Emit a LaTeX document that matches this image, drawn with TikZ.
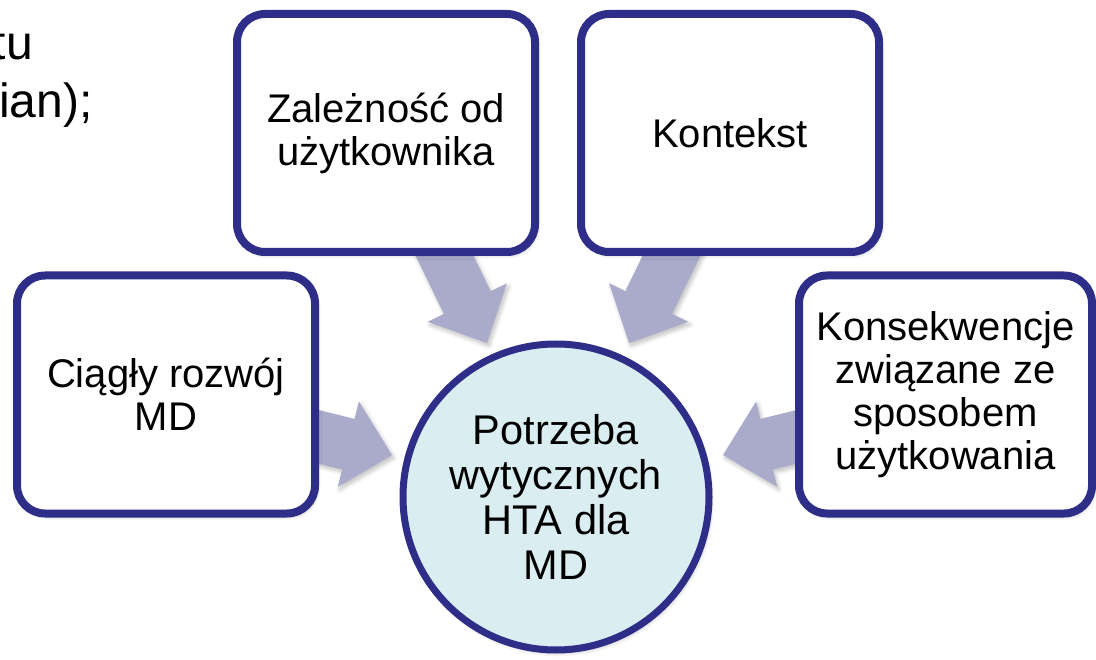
\documentclass[tikz,border=0pt]{standalone}
\usepackage{fontspec}
\setmainfont{Liberation Sans}
\usetikzlibrary{calc,shadows.blur}
\definecolor{navy}{RGB}{46,46,136}
\definecolor{arrowfill}{RGB}{170,171,203}
\definecolor{circfill}{RGB}{218,237,240}
\tikzset{
  softshadow/.style={blur shadow={shadow xshift=2pt, shadow yshift=-3pt, shadow blur steps=6, shadow blur radius=4pt, shadow opacity=25}},
  boxnode/.style={draw=navy, line width=8pt, rounded corners=28pt, fill=white,
    minimum width=298pt, minimum height=238pt, align=center, inner sep=0pt,
    font=\fontsize{40}{43}\selectfont, softshadow},
  hubnode/.style={circle, draw=navy, line width=7pt, fill=circfill, minimum size=306pt,
    align=center, inner sep=0pt, font=\fontsize{41.5}{45}\selectfont, softshadow},
  arrowstyle/.style={fill=arrowfill, softshadow},
  cuttext/.style={inner sep=0pt, font=\fontsize{48}{56}\selectfont}
}
\newcommand\blkarrow[2]{%
  \coordinate (hb) at ($(#2)!45pt!(#1)$);
  \fill[arrowstyle] ($(#1)!26pt!90:(#2)$) -- ($(hb)!26pt!-90:(#1)$) -- ($(hb)!44pt!-90:(#1)$) -- (#2)
    -- ($(hb)!44pt!90:(#1)$) -- ($(hb)!26pt!90:(#1)$) -- ($(#1)!26pt!-90:(#2)$) -- cycle;
}
\begin{document}
\begin{tikzpicture}[x=1pt,y=-1pt]
\useasboundingbox (0,0) rectangle (1096,660);
% cut-off slide text
\node[cuttext, anchor=base east] (t1) at (33,60) {tu};
\node[cuttext, anchor=base west] (t2) at (-1,118) {ian);};
% arrow end points
\coordinate (a1s) at (432,230); \coordinate (a1t) at (487,343);
\coordinate (a2s) at (684,230); \coordinate (a2t) at (629,343);
\coordinate (a3s) at (295,431); \coordinate (a3t) at (392,455);
\coordinate (a4s) at (820,431); \coordinate (a4t) at (723,455);
\blkarrow{a1s}{a1t}
\blkarrow{a2s}{a2t}
\blkarrow{a3s}{a3t}
\blkarrow{a4s}{a4t}
% boxes
\node[boxnode] (user) at (386,133) {Zależność od\\użytkownika};
\node[boxnode] (ctx) at (730,133) {Kontekst};
\node[boxnode] (dev) at (166,394.5) {Ciągły rozwój\\MD};
\node[boxnode, minimum width=293pt] (cons) at (945.5,394.5) {Konsekwencje\\związane ze\\sposobem\\użytkowania};
% hub
\node[hubnode] (hub) at (556,497) {Potrzeba\\wytycznych\\HTA dla\\MD};
\end{tikzpicture}
\end{document}
